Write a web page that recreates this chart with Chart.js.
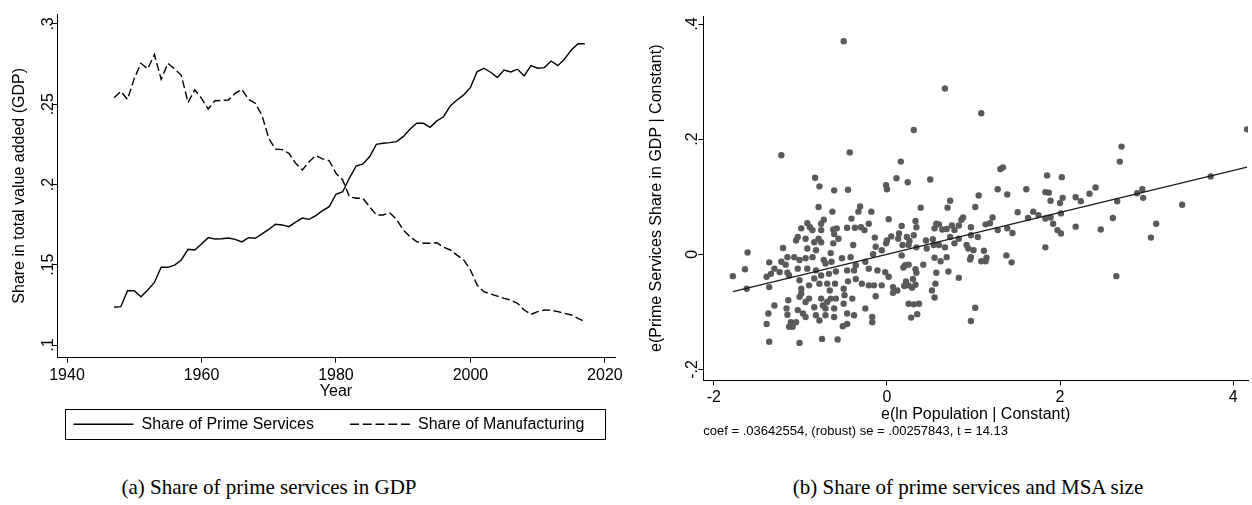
<!DOCTYPE html>
<html><head><meta charset="utf-8">
<script src="https://cdn.jsdelivr.net/npm/chart.js@4.4.0/dist/chart.umd.min.js"></script>
<style>
html,body{margin:0;padding:0;background:#fff;}
body{width:1252px;height:505px;position:relative;overflow:hidden;}
#ca{position:absolute;left:0;top:0;width:640px;height:470px;}
#cb{position:absolute;left:640px;top:0;width:612px;height:445px;}
.cap{position:absolute;top:477px;height:21px;line-height:21px;font-family:"Liberation Serif","Times New Roman",serif;font-size:21px;color:#000;white-space:nowrap;transform:translateX(-50%);}
</style></head>
<body>
<canvas id="ca" width="640" height="470"></canvas>
<canvas id="cb" width="612" height="445"></canvas>
<div class="cap" style="left:269px">(a) Share of prime services in GDP</div>
<div class="cap" style="left:968px">(b) Share of prime services and MSA size</div>
<script>
// ---------- Panel (a) data ----------
const years = [1947,1948,1949,1950,1951,1952,1953,1954,1955,1956,1957,1958,1959,1960,1961,1962,1963,1964,1965,1966,1967,1968,1969,1970,1971,1972,1973,1974,1975,1976,1977,1978,1979,1980,1981,1982,1983,1984,1985,1986,1987,1988,1989,1990,1991,1992,1993,1994,1995,1996,1997,1998,1999,2000,2001,2002,2003,2004,2005,2006,2007,2008,2009,2010,2011,2012,2013,2014,2015,2016,2017];
const primeServices = [0.1235,0.1239,0.1338,0.1338,0.1300,0.1343,0.1390,0.1484,0.1484,0.1498,0.1530,0.1596,0.1592,0.1629,0.1669,0.1660,0.1662,0.1667,0.1658,0.1642,0.1669,0.1665,0.1692,0.1720,0.1752,0.1748,0.1737,0.1765,0.1791,0.1783,0.1806,0.1837,0.1862,0.1939,0.1955,0.2040,0.2115,0.2128,0.2173,0.2250,0.2257,0.2261,0.2267,0.2298,0.2344,0.2381,0.2381,0.2356,0.2396,0.2422,0.2489,0.2526,0.2558,0.2605,0.2703,0.2724,0.2699,0.2666,0.2713,0.2701,0.2718,0.2676,0.2740,0.2724,0.2728,0.2769,0.2740,0.2782,0.2838,0.2877,0.2877];
const manufacturing = [0.2540,0.2580,0.2530,0.2660,0.2755,0.2720,0.2810,0.2655,0.2755,0.2720,0.2680,0.2510,0.2590,0.2537,0.2470,0.2522,0.2524,0.2526,0.2568,0.2593,0.2530,0.2506,0.2430,0.2288,0.2220,0.2217,0.2194,0.2132,0.2090,0.2142,0.2180,0.2160,0.2148,0.2070,0.2028,0.1924,0.1914,0.1914,0.1862,0.1810,0.1810,0.1824,0.1783,0.1717,0.1675,0.1644,0.1634,0.1634,0.1637,0.1609,0.1592,0.1560,0.1530,0.1467,0.1374,0.1332,0.1318,0.1305,0.1291,0.1280,0.1260,0.1218,0.1191,0.1208,0.1218,0.1217,0.1208,0.1197,0.1187,0.1166,0.1145];
const seriesNamesA = ['Share of Prime Services','Share of Manufacturing'];
const xTicksA = [1940,1960,1980,2000,2020];
const yTicksA = [0.1,0.15,0.2,0.25,0.3];
const yTickLabelsA = ['.1','.15','.2','.25','.3'];

// ---------- Panel (b) data ----------
const popResid = [
-1.22,-0.43,-0.83,-0.78,-0.61,-0.45,-0.79,-0.63,-0.31,-0.33,
-0.18,-0.41,-0.73,-0.76,-0.92,-0.89,-0.99,-0.86,-0.76,-0.62,
-0.58,-0.46,-0.37,-0.30,-0.26,-0.21,-1.03,-1.05,-0.94,-0.84,
-0.79,-0.76,-0.61,-0.56,-0.62,-0.39,-0.14,-0.13,-0.01,-1.61,
-1.20,-0.92,-0.82,-0.65,-0.16,-0.06,
-1.78,-1.64,-1.62,-1.36,-1.39,-1.34,-1.30,-1.24,-1.36,-1.22,
-1.17,-1.15,-1.13,-1.15,-1.07,-1.01,-0.94,-0.86,-0.73,-0.64,
-0.71,-0.52,-0.42,-0.36,-0.25,-0.21,-0.11,-0.02,-1.03,-0.92,
-0.82,-0.76,-0.67,-0.59,-0.46,-0.38,-1.01,-0.99,-0.90,-0.84,
-0.78,-0.69,-0.66,-0.60,-0.50,-0.45,-0.36,-0.29,-0.21,-0.15,
-0.06,-1.01,-0.99,-0.94,-0.90,-1.14,-1.30,-1.16,-1.15,-1.03,
-0.97,-0.94,-0.84,-0.82,-0.76,-0.74,-0.71,-0.69,-0.65,-0.61,
-0.59,-0.78,-0.71,-0.61,-0.50,-0.49,-0.40,-0.46,-0.38,-0.51,
-0.46,-0.25,-0.17,-0.17,-0.13,-1.39,-1.37,-1.13,-1.09,-1.11,
-1.05,-1.36,-1.01,-0.75,-0.57,
0.31,0.16,0.11,0.24,0.50,-0.01,0.00,1.31,1.34,1.28,
1.39,1.61,1.85,1.83,1.87,1.89,2.02,2.00,2.03,1.06,
0.73,0.70,1.02,0.39,0.02,0.33,0.17,0.34,0.57,0.60,
0.86,0.88,0.83,0.75,0.69,0.64,0.55,0.78,0.97,1.14,
1.19,1.22,1.28,1.39,1.45,1.51,1.69,1.63,1.75,1.83,
1.89,1.92,1.97,2.01,1.83,0.05,0.00,0.14,0.13,0.23,
0.31,0.26,0.18,0.25,0.45,0.53,0.54,0.46,0.34,0.60,
0.67,0.73,0.78,0.83,0.92,0.94,0.97,1.05,1.00,1.12,
1.38,0.55,0.69,0.97,1.15,0.17,
0.21,0.19,0.25,0.33,0.34,0.42,0.62,0.57,0.71,0.83,
0.96,1.09,1.14,1.44,0.02,0.07,0.12,0.07,0.22,0.25,
0.20,0.30,0.33,0.29,0.56,0.52,0.55,0.25,0.31,0.37,
0.28,0.35,1.02,0.97,
4.16,2.71,2.69,2.41,2.34,2.18,2.24,2.66,2.89,2.95,
2.96,3.74,3.41,2.01,2.61,2.18,2.47,3.11,3.05,2.65,
-0.50,0.67,1.09];
const shareResid = [
0.172,0.177,0.133,0.118,0.111,0.112,0.082,0.074,0.083,0.074,
0.074,0.062,0.060,0.053,0.054,0.047,0.045,0.042,0.042,0.043,
0.045,0.046,0.046,0.047,0.042,0.053,0.030,0.024,0.027,0.021,
0.027,0.021,0.035,0.027,0.019,0.016,0.029,0.013,0.019,0.003,
0.011,0.010,0.007,0.002,0.000,0.007,
-0.038,-0.026,-0.060,-0.014,-0.039,-0.034,-0.025,-0.031,-0.057,-0.013,
-0.018,-0.032,-0.037,-0.005,-0.005,-0.010,-0.007,-0.005,-0.010,-0.013,
-0.016,-0.007,-0.005,-0.019,-0.013,-0.025,-0.028,-0.031,-0.025,-0.025,
-0.028,-0.037,-0.034,-0.030,-0.028,-0.028,-0.045,-0.060,-0.054,-0.042,
-0.051,-0.051,-0.063,-0.051,-0.060,-0.047,-0.043,-0.051,-0.054,-0.054,
-0.054,-0.074,-0.068,-0.083,-0.077,-0.080,-0.089,-0.094,-0.105,-0.097,
-0.103,-0.109,-0.092,-0.106,-0.077,-0.089,-0.094,-0.083,-0.077,-0.094,
-0.077,-0.115,-0.106,-0.109,-0.086,-0.071,-0.077,-0.103,-0.106,-0.125,
-0.121,-0.094,-0.109,-0.118,-0.073,-0.121,-0.103,-0.126,-0.126,-0.118,
-0.118,-0.152,-0.154,-0.147,-0.148,
0.216,0.161,0.132,0.125,0.130,0.120,0.113,0.148,0.151,0.113,
0.104,0.113,0.137,0.108,0.107,0.093,0.134,0.089,0.098,0.102,
0.093,0.081,0.082,0.081,0.061,0.058,0.049,0.047,0.053,0.052,
0.060,0.064,0.050,0.050,0.044,0.043,0.045,0.042,0.047,0.052,
0.054,0.064,0.042,0.045,0.037,0.073,0.074,0.063,0.068,0.062,
0.064,0.053,0.042,0.036,0.012,0.031,0.024,0.036,0.027,0.030,
0.033,0.023,0.016,0.016,0.024,0.026,0.016,0.010,0.012,0.016,
0.012,0.030,0.019,0.027,0.016,0.010,0.033,0.030,0.007,0.006,
-0.002,-0.006,-0.005,-0.005,-0.006,-0.002,
-0.019,-0.023,-0.018,-0.026,-0.032,-0.018,-0.012,-0.032,-0.030,-0.041,
-0.009,-0.012,-0.012,-0.014,-0.039,-0.057,-0.063,-0.067,-0.047,-0.054,
-0.055,-0.043,-0.053,-0.058,-0.051,-0.063,-0.075,-0.086,-0.087,-0.086,
-0.110,-0.104,-0.093,-0.116,
0.217,0.187,0.161,0.116,0.105,0.099,0.092,0.092,0.106,0.113,
0.098,0.135,0.086,0.071,0.063,0.048,0.043,0.053,0.029,-0.038,
0.370,0.288,0.245];
const fitCoef = 0.03642554;
const fitIntercept = 0;
const fitNote = 'coef = .03642554, (robust) se = .00257843, t = 14.13';
const xTicksB = [-2,0,2,4];
const xTickLabelsB = ['-2','0','2','4'];
const yTicksB = [-0.2,0,0.2,0.4];
const yTickLabelsB = ['-.2','0','.2','.4'];

// ---------- common ----------
const FONT = "'Liberation Sans', Arial, Helvetica, sans-serif";
Chart.defaults.font.family = FONT;
Chart.defaults.font.size = 16;
Chart.defaults.color = '#000';

function axisStyle(tl) {
  return {
    grid: {display: true, drawOnChartArea: false, drawTicks: true, tickLength: tl, tickColor: '#000', tickWidth: 1},
    border: {display: true, color: '#000', width: 1}
  };
}

// legend frame + placement plugin for panel (a)
const legendFrame = {
  id: 'legendFrame',
  afterLayout(chart, args, opts) {
    const lg = chart.legend;
    if (!lg) return;
    const pad = lg.options.labels.padding;
    const d = opts.itemStart - pad - lg.left;
    lg.left += d; lg.right += d;
    const h = lg.bottom - lg.top;
    const newTop = opts.rowCenter - pad - 8;
    lg.top = newTop; lg.bottom = newTop + h;
  },
  afterDraw(chart, args, opts) {
    const ctx = chart.ctx;
    ctx.save();
    ctx.strokeStyle = '#000';
    ctx.lineWidth = 1;
    ctx.strokeRect(opts.box[0], opts.box[1], opts.box[2], opts.box[3]);
    ctx.restore();
  }
};

// ---------- Panel (a) ----------
new Chart(document.getElementById('ca'), {
  type: 'line',
  data: {
    datasets: [
      {label: seriesNamesA[0], data: years.map((y,i)=>({x:y, y:primeServices[i]})),
       borderColor: '#000', backgroundColor: 'rgba(0,0,0,0)', borderWidth: 1.4, pointRadius: 0, tension: 0, fill: false},
      {label: seriesNamesA[1], data: years.map((y,i)=>({x:y, y:manufacturing[i]})),
       borderColor: '#000', backgroundColor: 'rgba(0,0,0,0)', borderWidth: 1.4, borderDash: [8,3.5], pointRadius: 0, tension: 0, fill: false}
    ]
  },
  options: {
    responsive: false, animation: false, events: [],
    devicePixelRatio: 1,
    layout: {padding: {left: 0, right: 25, top: 14, bottom: 27.7}},
    scales: {
      x: Object.assign({
        type: 'linear', position: 'bottom', min: 1938.51, max: 2021.5,
        afterBuildTicks: a => { a.ticks = xTicksA.map(v => ({value: v})); },
        afterFit: a => { a.height = 22.6; },
        ticks: {autoSkip: false, maxRotation: 0, padding: 3, font: {size: 16}, callback: v => String(v)},
        title: {display: true, text: 'Year', font: {size: 16}, padding: {top: 0, bottom: -21.2}}
      }, axisStyle(5)),
      y: Object.assign({
        type: 'linear', position: 'left', min: 0.0921, max: 0.3062,
        afterBuildTicks: a => { a.ticks = yTicksA.map(v => ({value: v})); },
        afterFit: a => { a.width = 57; },
        ticks: {autoSkip: false, minRotation: 90, maxRotation: 90, crossAlign: 'center', padding: -8, font: {size: 16},
                callback: (v, i) => yTickLabelsA[i]},
        title: {display: true, text: 'Share in total value added (GDP)', font: {size: 16}, padding: {top: 10, bottom: 0}}
      }, axisStyle(5))
    },
    plugins: {
      tooltip: {enabled: false},
      legend: {
        display: true, position: 'bottom', align: 'start',
        labels: {
          usePointStyle: true, pointStyle: 'line', pointStyleWidth: 60, boxHeight: 16, padding: 36,
          font: {size: 16}, color: '#000',
          generateLabels: chart => {
            const items = Chart.defaults.plugins.legend.labels.generateLabels(chart);
            items.forEach((it, i) => { it.pointStyle = 'line'; it.lineWidth = 1.4; it.strokeStyle = '#000'; it.lineDash = i === 1 ? [9, 3.75] : []; });
            return items;
          }
        }
      },
      legendFrame: {itemStart: 73.5, rowCenter: 424.3, box: [65.5, 409.5, 540, 30]}
    }
  },
  plugins: [legendFrame]
});

// ---------- Panel (b) ----------
const xMinB = Math.min(...popResid), xMaxB = Math.max(...popResid);
new Chart(document.getElementById('cb'), {
  type: 'scatter',
  data: {
    datasets: [
      {label: 'Fitted values', data: [{x: xMinB, y: fitIntercept + fitCoef * xMinB}, {x: xMaxB, y: fitIntercept + fitCoef * xMaxB}],
       showLine: true, borderColor: '#1a1a1a', borderWidth: 1.3, pointRadius: 0, fill: false},
      {label: 'MSA', data: popResid.map((x,i)=>({x:x, y:shareResid[i]})),
       pointRadius: 3.2, pointBackgroundColor: '#5a5a5a', pointBorderWidth: 0, pointBorderColor: '#5a5a5a', showLine: false}
    ]
  },
  options: {
    responsive: false, animation: false, events: [],
    devicePixelRatio: 1,
    layout: {padding: {left: 0, right: 0, top: 16, bottom: 6}},
    scales: {
      x: Object.assign({
        type: 'linear', position: 'bottom', min: -2.1216, max: 4.171,
        afterBuildTicks: a => { a.ticks = xTicksB.map(v => ({value: v})); },
        afterFit: a => { a.height = 43; },
        ticks: {autoSkip: false, maxRotation: 0, padding: 3, font: {size: 16}, callback: (v, i) => xTickLabelsB[i]},
        title: {display: true, text: 'e(ln Population | Constant)', font: {size: 16}, padding: {top: 0, bottom: -0.6}}
      }, axisStyle(5)),
      y: Object.assign({
        type: 'linear', position: 'left', min: -0.2191, max: 0.4139,
        afterBuildTicks: a => { a.ticks = yTicksB.map(v => ({value: v})); },
        afterFit: a => { a.width = 63.3; },
        ticks: {autoSkip: false, minRotation: 90, maxRotation: 90, crossAlign: 'center', padding: -4, font: {size: 16},
                callback: (v, i) => yTickLabelsB[i]},
        title: {display: true, text: 'e(Prime Services Share in GDP | Constant)', font: {size: 16}, padding: {top: 7, bottom: 0}}
      }, axisStyle(5))
    },
    plugins: {
      tooltip: {enabled: false},
      legend: {display: false},
      subtitle: {display: true, text: fitNote, position: 'bottom', align: 'start', fullSize: false,
                 font: {size: 13, weight: 'normal'}, color: '#000', padding: {top: 0, bottom: 0}}
    }
  }
});
</script>
</body></html>
